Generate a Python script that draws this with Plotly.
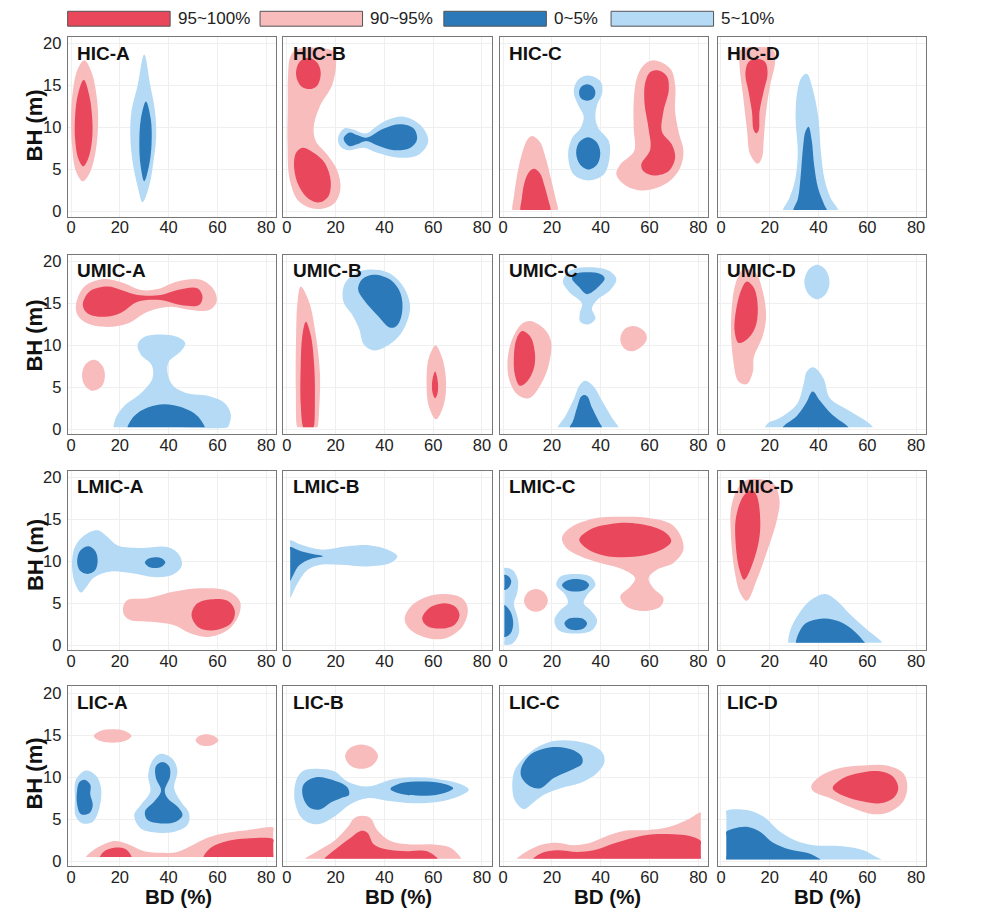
import plotly.graph_objects as go
from plotly.subplots import make_subplots

# legend / axes
LEGEND_LABELS = ["95~100%", "90~95%", "0~5%", "5~10%"]
LEGEND_KEYS = ["r", "p", "b", "l"]
X_TICKS = [0, 20, 40, 60, 80]
Y_TICKS = [0, 5, 10, 15, 20]
PANELS = ["HIC-A", "HIC-B", "HIC-C", "HIC-D",
          "UMIC-A", "UMIC-B", "UMIC-C", "UMIC-D",
          "LMIC-A", "LMIC-B", "LMIC-C", "LMIC-D",
          "LIC-A", "LIC-B", "LIC-C", "LIC-D"]

# contour outlines per panel: (level, [(BD %, BH m), ...]) drawn in order
# r = 95~100%, p = 90~95%, b = 0~5%, l = 5~10%
HIC_A = [
    ("p", [(5.5, 18), (8.5, 16.5), (10.6, 13.5), (11.1, 10.5), (10, 7), (7.5, 4.5), (4.8, 3.6),
           (2, 4.8), (0.5, 7.5), (0, 11), (0.8, 14.5), (2.8, 17)]),
    ("r", [(5.2, 15.7), (7.5, 13.8), (8.7, 11), (8.6, 8.5), (7, 6.3), (5, 5.4), (3, 6.3),
           (1.7, 8.5), (1.6, 11), (2.7, 13.8)]),
    ("l", [(30, 18.7), (32.5, 15), (34.4, 12), (34.9, 9), (33.8, 6), (32, 3), (29.3, 1.1),
           (27.3, 3), (25.2, 6), (24.3, 9), (24.8, 12), (27.3, 15)]),
    ("b", [(30.7, 13.1), (32.7, 11), (33, 8), (32, 5.5), (30, 3.6), (28.5, 5.5), (28, 8), (28.6, 11)]),
]
HIC_B = [
    ("p", [(4, 19.3), (12, 19.5), (19.5, 19.0), (20.2, 17.5), (18.5, 15), (13.5, 12.5), (11, 10),
           (12, 8.3), (16.5, 6.8), (20.5, 5), (22, 2.8), (19.5, 1.0), (12.5, 0.3), (5, 1.2),
           (1.2, 3.8), (0.3, 8), (0.4, 13), (0.5, 16.3), (1.5, 18.5)]),
    ("r", [(9, 18.3), (12.5, 17.7), (13.9, 16.5), (12.5, 15), (10, 14.6), (6, 14.9), (3.8, 16.3), (5.2, 17.8)]),
    ("r", [(6.5, 7.6), (11, 7), (15.5, 5.8), (18, 3.6), (17, 1.8), (13.5, 1.1), (9, 1.5), (5, 3),
           (3, 5.2), (3.8, 7)]),
    ("l", [(21, 8.8), (23.5, 9.9), (27, 9.8), (32.3, 9.3), (37, 10.2), (41.2, 10.9), (48, 11.3),
           (54.8, 10.3), (58, 8.4), (54.2, 6.8), (46.6, 6.4), (37.1, 7), (31.6, 7.6), (24.8, 7.3),
           (21.8, 7.8)]),
    ("b", [(23.3, 8.7), (25.8, 9.4), (28.8, 9.1), (32.5, 8.8), (39.8, 9.9), (46.6, 10.4), (52, 9.9),
           (53.4, 8.6), (50.7, 7.6), (43.9, 7.3), (37, 7.9), (32.5, 8.4), (28.8, 8.0), (25.5, 7.8)]),
]
HIC_C = [
    ("p", [(11.9, 9.0), (15, 8.3), (17.5, 6.3), (19.5, 4), (21.3, 1.8), (22.4, 0.2), (21.8, 0.2),
           (13, 0.2), (4.4, 0.2), (3.8, 0.2), (4.5, 2), (5.8, 4.5), (7.8, 7), (10, 8.6)]),
    ("r", [(12.5, 5.1), (15, 4.6), (16.8, 3.2), (18.4, 1.5), (19.4, 0.2), (18.8, 0.2), (13, 0.2),
           (7.7, 0.2), (7.1, 0.2), (7.6, 1.5), (8.5, 3.2), (10.3, 4.6)]),
    ("l", [(34.8, 16.2), (39.9, 15.5), (40.6, 14.1), (38.5, 12.7), (37.8, 11.1), (39.1, 9.9),
           (43.3, 8.4), (43.6, 6.4), (41.2, 4.4), (35, 3.7), (28.9, 4.4), (26.6, 6.8), (28.3, 8.8),
           (31.6, 9.9), (33, 11.3), (30.7, 12.7), (28.9, 14.3), (30.7, 15.7)]),
    ("b", [(34.4, 15.15), (36.8, 14.85), (37.8, 14.15), (36.8, 13.45), (34.4, 13.2), (32, 13.45),
           (31.1, 14.15), (32, 14.85)]),
    ("b", [(34.8, 8.85), (38.2, 8.3), (39.8, 7), (38.5, 5.6), (35, 5.0), (31.5, 5.6), (29.9, 7), (31.3, 8.3)]),
    ("p", [(61.6, 18.0), (68.5, 17), (70.5, 15.1), (70.5, 11.9), (71.9, 9.5), (73.9, 7.2), (72.5, 5.2),
           (67.1, 3.4), (57.5, 2.5), (50.7, 3), (46.4, 4.4), (48, 5.6), (53.7, 7.2), (53.5, 9.9),
           (53.5, 13.1), (54.8, 15.9), (57.5, 17.4)]),
    ("r", [(63.7, 16.8), (67.1, 16.1), (67.9, 14.5), (65.7, 11.9), (65.1, 9.5), (69.1, 8), (70.5, 6.4),
           (67.8, 4.8), (61.6, 4.3), (57.5, 4.8), (56.6, 5.6), (60.3, 7.4), (59.6, 9.9), (58, 12.7),
           (58.2, 15.3), (60.3, 16.6)]),
]
HIC_D = [
    ("p", [(14.7, 19.6), (21.5, 19.2), (22.2, 17.8), (20.2, 15.1), (18.5, 11.9), (17.5, 8.4),
           (16.8, 6.4), (15.1, 5.7), (12, 6.8), (10.6, 9.9), (9, 13.9), (7.6, 17.4), (7.9, 19.2)]),
    ("r", [(14.5, 18.2), (18.1, 17.8), (19.1, 16.4), (17.5, 14.3), (15.8, 11.9), (15.5, 9.7),
           (14.5, 9.3), (13.4, 9.7), (12.7, 11.9), (11.3, 14.3), (10, 16.4), (11.3, 17.8)]),
    ("l", [(35.2, 16.4), (37.7, 14.5), (40, 11), (41, 7), (42.5, 3.8), (45, 1.6), (48.1, 0.2),
           (47.5, 0.2), (26, 0.2), (25.4, 0.2), (28, 1.6), (30.4, 3.8), (31.5, 7), (30.6, 11),
           (31.3, 14.3), (33.1, 16)]),
    ("b", [(35.9, 10.1), (37.2, 8.5), (38.2, 5.5), (39.8, 2.8), (42.7, 0.6), (43.4, 0.2), (42.8, 0.2),
           (30.3, 0.2), (29.7, 0.2), (31.5, 1.5), (32.6, 4), (33.6, 7.5), (34.6, 9.5)]),
]
UMIC_A = [
    ("p", [(2, 14.8), (5.5, 17), (13.6, 17.9), (21.8, 17.4), (28.6, 16.6), (35.5, 16.7), (43.6, 17.6),
           (53.2, 17.8), (58.6, 16.6), (59.7, 15.2), (56.6, 14.2), (49.1, 14.2), (40.9, 14.6),
           (31.4, 14), (23.2, 12.6), (15, 12.2), (6.8, 12.6), (2.7, 13.6)]),
    ("r", [(4.8, 14.8), (7.5, 16.4), (15, 17), (20.5, 16.6), (27.3, 16), (36.8, 16), (43.6, 16.6),
           (51.8, 16.8), (53.9, 15.8), (52.5, 14.8), (45, 14.8), (36.8, 15.4), (27.3, 15.2),
           (20.5, 13.9), (13.6, 13.4), (6.8, 13.8)]),
    ("p", [(9.6, 8.3), (12.8, 7.6), (13.9, 6.4), (12.5, 5.1), (8.8, 4.6), (5.5, 5.3), (4.5, 6.5), (6, 7.8)]),
    ("l", [(36.8, 11.3), (43.6, 11), (46.8, 10.3), (45, 9.3), (40.2, 8.1), (39.5, 6.9), (41.6, 5.3),
           (47.7, 4.3), (55.9, 4), (62.7, 3.2), (65.5, 1.8), (64.6, 0.4), (64.2, 0.25), (40, 0.25),
           (18.1, 0.25), (17.5, 0.25), (18.4, 1.4), (21.8, 2.8), (28.6, 4.3), (33.4, 6.1), (33, 7.7),
           (28.6, 8.9), (27.3, 10.1), (30, 11)]),
    ("b", [(38.2, 3), (45.7, 2.6), (51.8, 1.6), (54.8, 0.25), (54.2, 0.25), (23.8, 0.25), (23.2, 0.25),
           (25.9, 1.6), (31.4, 2.6)]),
]
UMIC_B = [
    ("p", [(5.7, 17), (9.1, 15.2), (11.9, 11.2), (13.6, 6.5), (13.2, 2.2), (12.5, 0.25), (11.9, 0.25),
           (5, 0.25), (4.4, 0.25), (3.7, 4.5), (3.8, 11.2), (4.4, 15.2)]),
    ("r", [(7.8, 12.8), (9.8, 11.2), (11.2, 7.7), (11.5, 3), (10.9, 0.25), (10.3, 0.25), (7.4, 0.25),
           (6.8, 0.25), (5.7, 3), (5.7, 7.7), (6.4, 11.2)]),
    ("l", [(33, 19), (41.2, 18.7), (47.3, 17.2), (50.5, 14.8), (48.7, 12.4), (43.9, 10.5), (35.7, 9.4),
           (31.6, 10.1), (29.6, 12), (26.9, 13.6), (23.2, 15.2), (23.5, 17.2), (27.6, 18.5)]),
    ("b", [(35.7, 18.4), (42.5, 17.8), (46.6, 16.2), (47.3, 14), (45.3, 12.4), (42.5, 12.1),
           (37.1, 13.6), (31.6, 15.4), (29.2, 16.7), (31, 17.9)]),
    ("p", [(61, 10), (63.7, 8.5), (65.3, 5.7), (64.4, 3), (61.2, 1.2), (58.2, 2.8), (57.3, 5.7), (58.2, 8.5)]),
    ("r", [(60.8, 6.9), (61.9, 5.7), (61.8, 4.3), (60.8, 3.7), (59.8, 4.3), (59.6, 5.7)]),
]
UMIC_C = [
    ("l", [(35.7, 19.3), (43.2, 18.9), (46.4, 17.9), (43.9, 16.6), (38.5, 15.4), (36.4, 14.4),
           (37.8, 13.2), (35, 12.5), (31.6, 12.8), (31.4, 13.8), (32.3, 15), (26.9, 16.4),
           (24.5, 17.6), (27.5, 18.9)]),
    ("b", [(34.4, 18.7), (39.8, 18.5), (41.6, 18), (39.1, 17), (34.4, 16.1), (30.9, 17), (28.2, 18), (29.6, 18.5)]),
    ("l", [(33.7, 5.8), (37.1, 5.1), (40.5, 3.4), (44.6, 1.4), (47.3, 0.25), (46.7, 0.25), (23, 0.25),
           (22.4, 0.25), (25.5, 1.6), (28.9, 3.6), (31.4, 5.3)]),
    ("b", [(33.3, 4.1), (34.6, 3.9), (36.4, 2.6), (39.5, 0.8), (40.5, 0.25), (39.9, 0.25), (27.9, 0.25),
           (27.3, 0.25), (28.5, 0.9), (30.3, 2.6), (31.9, 3.9)]),
    ("p", [(11.2, 12.9), (16.7, 12), (19.6, 10.5), (18.7, 7.7), (15.3, 5.3), (10.5, 3.7), (5.7, 4.2),
           (2.3, 6.1), (2, 8.9), (4.4, 11.2), (7.8, 12.6)]),
    ("r", [(7.8, 11.7), (11.2, 11), (13, 9.1), (12.6, 7.3), (9.8, 5.7), (6.8, 5.2), (4.8, 6.5),
           (4.4, 8.9), (5.5, 10.8)]),
    ("p", [(53.5, 12.3), (57.8, 11.7), (58.9, 10.8), (56.9, 9.9), (52.8, 9.3), (49.4, 9.7), (48, 10.8), (49.6, 11.9)]),
]
UMIC_D = [
    ("p", [(9.3, 19.1), (14, 18.7), (16.8, 16.8), (18.5, 13.6), (17.2, 11.2), (13.4, 8.5), (13.1, 6.9),
           (10.6, 5.4), (7.2, 5.7), (4.9, 8.5), (4.1, 12.4), (5.2, 16.4), (7.2, 18.3)]),
    ("r", [(10.6, 17.6), (13.6, 16.8), (15.1, 14.4), (14, 12.1), (10.6, 10.7), (7.2, 10.3), (5.6, 11.7),
           (6.3, 14.4), (8.6, 16.8)]),
    ("l", [(39.4, 19.6), (42.9, 19.0), (44.5, 17.5), (42.9, 16.1), (39.4, 15.5), (35.9, 16.1), (34.2, 17.5), (35.9, 19.0)]),
    ("l", [(37.9, 7.4), (42, 6.1), (44.7, 3.7), (51.5, 2.4), (58.4, 1.2), (61.6, 0.5), (62.2, 0.25),
           (61.6, 0.25), (18.7, 0.25), (18.1, 0.25), (19.5, 0.8), (24.3, 1.4), (31.1, 3), (33.8, 5.3),
           (35.2, 6.9)]),
    ("b", [(37.6, 4.5), (40.6, 3.4), (45.4, 1.8), (51.4, 0.5), (52.2, 0.25), (51.6, 0.25), (26, 0.25),
           (25.4, 0.25), (26.5, 0.6), (31.1, 1.6), (35, 3.2)]),
]
LMIC_A = [
    ("l", [(10.9, 13.7), (15, 12.9), (19.1, 11.9), (28.6, 11.6), (39.5, 11.7), (44.3, 10.8), (45.4, 9.5),
           (42.3, 8.5), (35.5, 8.1), (24.5, 8.6), (16.4, 8.8), (9.5, 8.1), (6.1, 6.9), (4.1, 6.3),
           (1.6, 7.4), (0.4, 9.4), (1.4, 11.6), (5.5, 13.1)]),
    ("b", [(7.2, 11.8), (10, 11.2), (10.9, 10), (9.8, 8.9), (6.7, 8.5), (3.6, 8.9), (2.5, 10), (3.8, 11.3)]),
    ("b", [(34.4, 10.5), (37.3, 10.35), (38.6, 9.9), (37.3, 9.4), (34.4, 9.2), (31.6, 9.4), (30.3, 9.85), (31.6, 10.3)]),
    ("p", [(21.4, 4.6), (23.2, 5.4), (31.4, 5.6), (42.3, 6.4), (53.2, 6.8), (64.1, 6.5), (69.3, 5.2),
           (68.5, 3.4), (64.1, 1.8), (55.9, 1), (49.1, 1.4), (42.3, 2.4), (32.7, 2.8), (24.5, 3), (21.8, 3.6)]),
    ("r", [(58.6, 5.5), (64.8, 5.2), (67.2, 4), (65.5, 2.6), (58.6, 1.8), (52.5, 2.1), (49.4, 3.6), (51.8, 5)]),
]
LMIC_B = [
    ("l", [(1.4, 12.5), (5.7, 12), (13.9, 11.4), (24.8, 11.8), (34.4, 11.9), (41.2, 11.4), (45.3, 10.6),
           (42.5, 9.8), (32.9, 9.4), (22.1, 9.6), (13.9, 9.6), (8.5, 9), (4.4, 7.4), (1.4, 5.7),
           (1.4, 6.3), (1.4, 11.9)]),
    ("b", [(1.4, 11.7), (5, 11.3), (10, 10.9), (14.9, 10.6), (10, 10.3), (5, 9.5), (2.5, 8.3),
           (1.4, 7.7), (1.4, 8.2), (1.4, 11.2)]),
    ("p", [(64.4, 6.1), (71.9, 5.6), (74.2, 4.3), (71.9, 2.2), (64.4, 0.8), (56.2, 1), (50.1, 2),
           (48.3, 3.2), (51.4, 4.8), (57.5, 5.8)]),
    ("r", [(64.4, 5), (69.1, 4.6), (70.8, 3.6), (68.5, 2.4), (63, 2), (57.5, 2.3), (55.5, 3.2), (58.2, 4.4)]),
]
LMIC_C = [
    ("p", [(24.1, 12.8), (27.5, 14), (37.1, 15.1), (48, 15.3), (58.9, 15.2), (68.5, 14.5), (72.5, 13.2),
           (73.9, 11.4), (69.8, 9.8), (63, 9), (59.6, 8), (61.6, 6.8), (65.7, 5.6), (64.4, 4.6),
           (57.5, 4.1), (50.7, 4.6), (48, 5.8), (52.1, 7), (54.1, 8), (49.4, 9), (39.8, 9.8),
           (31.6, 10.6), (25.9, 11.6)]),
    ("r", [(31.2, 12.6), (35.7, 13.8), (45.3, 14.5), (50.7, 14.6), (60.3, 14.2), (67.1, 13.3),
           (68.9, 12.4), (65.7, 11.5), (57.5, 10.7), (49.4, 10.5), (41.2, 10.7), (34.4, 11.5)]),
    ("l", [(0.5, 9.2), (3.7, 9), (6, 7.8), (5.7, 6.2), (4.4, 5), (6, 3.2), (6.4, 1.4), (3.7, 0.2),
           (0.5, 0.1), (0.5, 0.6), (0.5, 8.7)]),
    ("b", [(0.5, 8.4), (2.3, 8.2), (3.3, 7.6), (2.3, 6.9), (0.5, 6.6), (0.5, 7.0), (0.5, 8.0)]),
    ("b", [(0.5, 4.8), (3, 4), (4.1, 2.6), (3, 1.4), (0.5, 1.0), (0.5, 1.4), (0.5, 4.4)]),
    ("p", [(13.4, 6.7), (16.8, 6.3), (18.3, 5.35), (16.8, 4.4), (13.4, 4.0), (10, 4.4), (8.5, 5.35), (10, 6.3)]),
    ("l", [(29.6, 8.5), (35.7, 8.2), (37.8, 7.2), (34.4, 6), (33, 5), (35.7, 4.2), (38.5, 3), (36.4, 1.8),
           (29.6, 1.4), (22.8, 1.8), (21, 3), (23.5, 4.2), (26.5, 5), (25.5, 6), (21.8, 7.2), (23.5, 8.2)]),
    ("b", [(29.6, 7.9), (33.5, 7.7), (35.2, 7.2), (33.5, 6.6), (29.6, 6.4), (26, 6.6), (24.1, 7.2), (26, 7.7)]),
    ("b", [(29.7, 3.3), (32.9, 3.15), (34.4, 2.6), (32.9, 2.0), (29.7, 1.8), (26.6, 2.0), (25.1, 2.6), (26.6, 3.15)]),
]
LMIC_D = [
    ("p", [(14.7, 19.8), (21.5, 19.3), (24, 17.3), (22.9, 14.9), (19.5, 11.7), (14.7, 7.8), (10.6, 5.3),
           (7.9, 6.2), (5.5, 9), (4.1, 13), (4.1, 16.3), (6.5, 18.5), (9.9, 19.6)]),
    ("r", [(12.7, 18.5), (14.7, 17.8), (16.1, 14.9), (15.4, 12.2), (12, 9), (9.5, 7.8), (7.6, 9),
           (6, 12.2), (6.2, 15.3), (9.3, 17.8)]),
    ("l", [(42.7, 6.1), (47.5, 5.3), (52.9, 3.7), (59.8, 1.9), (65.3, 0.6), (65.9, 0.3), (65.3, 0.3),
           (28.3, 0.3), (27.7, 0.3), (28.4, 1.8), (31.8, 3.7), (36.5, 5.3)]),
    ("b", [(42, 3.2), (48.8, 2.8), (55, 1.6), (58.5, 0.5), (59, 0.3), (58.4, 0.3), (31.4, 0.3),
           (30.8, 0.3), (31.8, 1.4), (34.6, 2.6)]),
]
LIC_A = [
    ("p", [(17, 15.7), (22, 15.5), (24.8, 14.9), (22, 14.3), (17, 14.1), (12, 14.3), (9.3, 14.9), (12, 15.5)]),
    ("p", [(55.5, 15.1), (58.5, 14.9), (60.4, 14.4), (58.5, 13.9), (55.5, 13.7), (52.5, 13.9), (51.1, 14.4), (52.5, 14.9)]),
    ("l", [(6.1, 10.8), (10.2, 10.2), (12.3, 8.7), (11.6, 6.3), (8.9, 4.7), (4.8, 4.5), (2, 5.3),
           (1.6, 7.5), (2, 9.7)]),
    ("b", [(5.5, 9.7), (7.9, 9.1), (7.9, 7.9), (8.9, 6.7), (7.5, 5.7), (4.1, 5.6), (2.5, 6.7),
           (2.5, 8.5), (3.4, 9.4)]),
    ("l", [(36.8, 12.8), (41.6, 12.2), (43.6, 10.8), (42.3, 8.7), (45, 7.1), (48.4, 5.7), (47.7, 4.3),
           (42.3, 3.5), (35.5, 3.4), (28.6, 3.9), (25.9, 5.5), (28.6, 6.7), (32.5, 8.3), (31.6, 10.2),
           (33.4, 12)]),
    ("b", [(37.5, 11.8), (40.2, 11.3), (40.6, 10.1), (38.4, 8.4), (39.6, 7.5), (43.6, 6.5), (45.7, 5.5),
           (43, 4.7), (36.8, 4.5), (31.4, 4.9), (30.3, 5.9), (34.1, 7.1), (36.9, 8.4), (34.8, 9.9),
           (34.8, 11.3)]),
    ("p", [(6.1, 0.5), (9.5, 1.4), (15, 2.2), (18.4, 2.4), (23.2, 2.05), (30, 1.2), (36.8, 1),
           (43.6, 1.1), (49.1, 1.8), (55.9, 2.8), (64.1, 3.4), (72.3, 3.7), (82.9, 4), (82.9, 3.5),
           (82.9, 1), (82.9, 0.5), (82.3, 0.5), (7, 0.5)]),
    ("r", [(11.9, 0.5), (13.6, 1.2), (17.7, 1.6), (21.8, 1.5), (23.9, 1), (24.8, 0.5), (24.2, 0.5), (12.5, 0.5)]),
    ("r", [(54.3, 0.5), (57.3, 1.6), (64.1, 2.4), (72.3, 2.7), (82.9, 2.6), (82.9, 2.1), (82.9, 1),
           (82.9, 0.5), (82.3, 0.5), (55, 0.5)]),
]
LIC_B = [
    ("p", [(30.5, 13.9), (35, 13.5), (37.4, 12.5), (35, 11.4), (30.5, 11), (26, 11.4), (23.9, 12.5), (26, 13.5)]),
    ("l", [(11.2, 11), (19.4, 10.7), (24.8, 9.5), (33, 8.9), (43.9, 9.8), (53.5, 10), (65.7, 9.6),
           (72.5, 9), (74.6, 8.5), (71.9, 7.9), (63, 7.1), (52.1, 6.9), (41.2, 7.2), (33, 7.5),
           (26.2, 6.8), (19.4, 5.3), (12.5, 4.4), (6.3, 5.1), (3.3, 7.1), (3.7, 9.5), (6.4, 10.7)]),
    ("b", [(11.9, 10), (19.4, 9.6), (24.8, 8.8), (25.5, 7.9), (22.1, 7.5), (18, 7), (13.9, 6.2),
           (9.8, 6.3), (6.8, 7.5), (6.8, 9.1)]),
    ("b", [(55, 9.5), (63, 9.3), (68.2, 8.7), (63, 8.0), (55, 7.8), (47, 8.0), (42.5, 8.6), (47, 9.3)]),
    ("p", [(7.4, 0.3), (12.5, 1.2), (19.4, 2.4), (24.8, 4), (27.5, 5.1), (31, 5.4), (34.4, 5.1),
           (37.1, 3.7), (42.5, 2.4), (50.7, 2), (60.3, 2), (67.1, 1.6), (71.5, 0.3), (70.9, 0.3), (8, 0.3)]),
    ("r", [(15.5, 0.3), (20.7, 1.6), (26.2, 2.8), (30.3, 3.6), (33, 3.4), (35.7, 2), (41.2, 1.4),
           (49.4, 1.2), (57.5, 1.2), (61.9, 0.3), (61.3, 0.3), (16.1, 0.3)]),
]
LIC_C = [
    ("l", [(24.8, 14.4), (34.4, 14), (40.5, 13), (41.5, 11.8), (38.5, 10.5), (31.6, 9.3), (23.5, 8.7),
           (16.6, 7.9), (11.2, 6.7), (8.5, 6.2), (5, 7.1), (3.7, 9.1), (5, 11), (11.2, 13), (18, 14.1)]),
    ("b", [(22.1, 13.6), (28.9, 13.2), (32.3, 12.4), (32.3, 11.6), (27.5, 10.8), (20.7, 9.9),
           (15.3, 8.7), (11.2, 8.9), (7.5, 10), (7.4, 11.1), (11.2, 12.7), (16.6, 13.4)]),
    ("p", [(5.5, 0.3), (9.8, 1.2), (16, 2), (22.1, 2.2), (28.9, 1.9), (35.7, 2.2), (42.5, 3), (49.4, 3.6),
           (58.9, 3.7), (67.1, 4), (75.3, 4.9), (81, 5.8), (81, 5.3), (81, 0.8), (81, 0.3), (80.4, 0.3),
           (6.1, 0.3)]),
    ("r", [(12.3, 0.3), (16, 1), (22.1, 1.3), (30.3, 1.1), (37.1, 1.3), (45.3, 2.1), (53.5, 2.8),
           (61.6, 3.2), (69.8, 3.2), (76.5, 3), (81, 2.4), (81, 1.9), (81, 0.8), (81, 0.3), (80.4, 0.3),
           (12.9, 0.3)]),
]
LIC_D = [
    ("p", [(37, 8.9), (40.6, 10.1), (48.8, 11.1), (58.4, 11.4), (67.9, 11.4), (74.7, 10.5), (76.4, 8.9),
           (74.7, 7.1), (69.3, 5.9), (62.5, 5.6), (54.3, 6.3), (44.8, 7.5), (38, 8.3)]),
    ("r", [(45.8, 8.7), (50.2, 9.9), (58.4, 10.6), (65.2, 10.7), (70.4, 10.1), (72.7, 8.7), (70.6, 7.5),
           (65.2, 6.9), (58.4, 7.1), (50.2, 7.8)]),
    ("l", [(2.2, 6), (10.6, 6.1), (17.5, 5.3), (24.3, 3.5), (31.1, 2.4), (37.9, 1.9), (48.8, 1.8),
           (58.4, 1.3), (63.1, 0.6), (65.9, 0.2), (65.3, 0.2), (2.8, 0.2), (2.2, 0.2), (2.2, 0.7), (2.2, 5.5)]),
    ("b", [(2.2, 3.5), (5.2, 3.9), (10.6, 4.1), (16, 3.5), (21.4, 2.2), (28.2, 1.4), (35.2, 1),
           (38.6, 0.6), (40.9, 0.2), (40.3, 0.2), (2.8, 0.2), (2.2, 0.2), (2.2, 0.7), (2.2, 3.0)]),
]
PANEL_DATA = [HIC_A, HIC_B, HIC_C, HIC_D, UMIC_A, UMIC_B, UMIC_C, UMIC_D,
              LMIC_A, LMIC_B, LMIC_C, LMIC_D, LIC_A, LIC_B, LIC_C, LIC_D]

FILL = {"r": "#E9475C", "p": "#F8BCBD", "b": "#2B79B9", "l": "#B4DAF6"}
FONT = "Liberation Sans, Arial, sans-serif"

# page body has an 8px margin, so the figure is laid out in window pixels minus 8
PAD = 8
W, H = 984 - 2 * PAD, 918 - 2 * PAD


def px(x):
    return (x - PAD) / W


def py(y):
    return 1 - (y - PAD) / H


COL_LEFT = [66.7, 282.7, 499.3, 717.3]
ROW_TOP = [35, 254.3, 471.7, 689]
PW, PH = 208.5, 181

fig = make_subplots(rows=4, cols=4)

for i, (name, regions) in enumerate(zip(PANELS, PANEL_DATA)):
    r, c = divmod(i, 4)
    for kind, pts in regions:
        xs = [p[0] for p in pts] + [pts[0][0]]
        ys = [p[1] for p in pts] + [pts[0][1]]
        fig.add_trace(go.Scatter(
            x=xs, y=ys, mode="lines", fill="toself", fillcolor=FILL[kind],
            line=dict(width=0, shape="spline", smoothing=1, color=FILL[kind]),
            hoverinfo="skip", showlegend=False
        ), row=r + 1, col=c + 1)

    fig.update_xaxes(domain=[px(COL_LEFT[c]), px(COL_LEFT[c] + PW)], row=r + 1, col=c + 1)
    fig.update_yaxes(domain=[py(ROW_TOP[r] + PH), py(ROW_TOP[r])], showticklabels=(c == 0),
                     row=r + 1, col=c + 1)

    sfx = "" if i == 0 else str(i + 1)
    fig.add_annotation(text=f"<b>{name}</b>", xref=f"x{sfx} domain", yref=f"y{sfx} domain",
                       x=0.035, y=0.91, xanchor="left", yanchor="middle", showarrow=False,
                       font=dict(family=FONT, size=19, color="#111"))

fig.update_xaxes(range=[-1.4, 84], tickvals=X_TICKS, showgrid=True, gridcolor="#EFEFEF",
                 showline=True, mirror=True, linecolor="#777", linewidth=1, zeroline=False,
                 ticks="", ticklabelstandoff=-4, tickfont=dict(family=FONT, size=16.5, color="#222"))
fig.update_yaxes(range=[-0.6, 20.8], tickvals=Y_TICKS, showgrid=True, gridcolor="#EFEFEF",
                 showline=True, mirror=True, linecolor="#777", linewidth=1, zeroline=False,
                 ticks="", ticklabelstandoff=2, tickfont=dict(family=FONT, size=16.5, color="#222"))

# axis titles
for yc in [124.3, 335.8, 556.7, 776.7]:
    fig.add_annotation(text="<b>BH (m)</b>", xref="paper", yref="paper", x=px(34), y=py(yc),
                       xanchor="center", yanchor="middle", textangle=-90, showarrow=False,
                       font=dict(family=FONT, size=22, color="#111"))
for xc in [177.5, 397.5, 607, 827]:
    fig.add_annotation(text="<b>BD (%)</b>", xref="paper", yref="paper", x=px(xc), y=py(900),
                       xanchor="center", yanchor="middle", showarrow=False, borderpad=0,
                       font=dict(family=FONT, size=20.5, color="#111"))

# legend swatches
SW_LEFT = [66.7, 259.3, 443.3, 610.7]
for left, key, label in zip(SW_LEFT, LEGEND_KEYS, LEGEND_LABELS):
    fig.add_shape(type="rect", xref="paper", yref="paper", x0=px(left), x1=px(left + 102.6),
                  y0=py(24.3), y1=py(9.3), fillcolor=FILL[key], line=dict(color="#555", width=1))
    fig.add_annotation(text=label, xref="paper", yref="paper", x=px(left + 108), y=py(17),
                       xanchor="left", yanchor="middle", showarrow=False,
                       font=dict(family=FONT, size=17, color="#222"))

fig.update_layout(width=W, height=H, margin=dict(l=0, r=0, t=0, b=0),
                  paper_bgcolor="white", plot_bgcolor="white", showlegend=False)

fig.write_html("out.html")
